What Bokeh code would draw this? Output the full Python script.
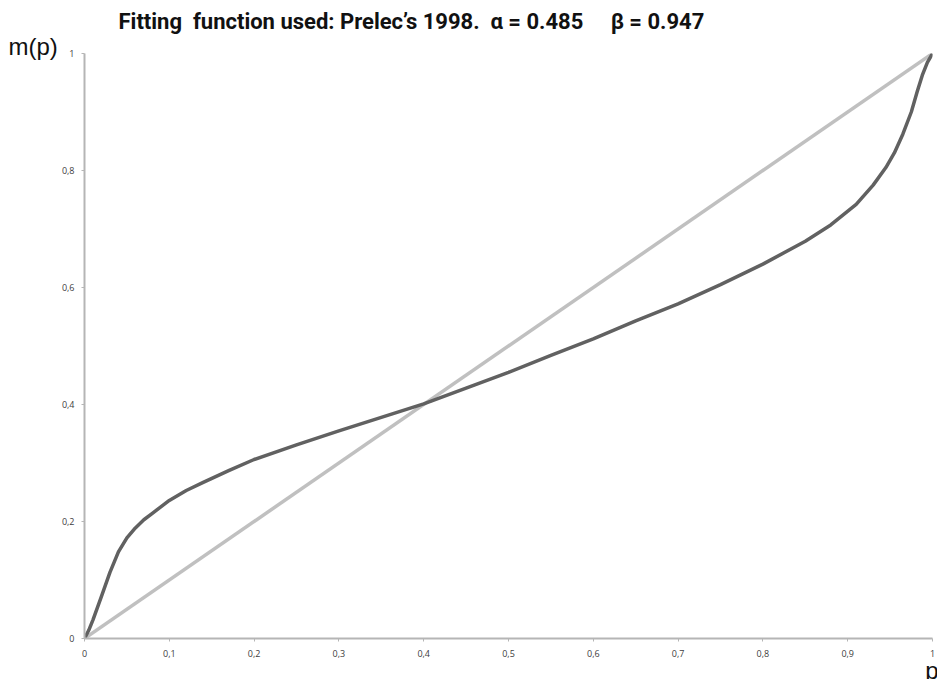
from bokeh.plotting import figure
from bokeh.models import Range1d, FixedTicker, CustomJSTickFormatter, Title
from bokeh.embed import file_html
from bokeh.resources import INLINE

# values
p_vals = [0, 0.005, 0.01, 0.02, 0.03, 0.04, 0.05, 0.06, 0.07, 0.08, 0.09, 0.10, 0.12, 0.14,
          0.17, 0.20, 0.25, 0.30, 0.35, 0.40, 0.45, 0.50, 0.55, 0.60, 0.65, 0.70,
          0.75, 0.80, 0.85, 0.88, 0.91, 0.93, 0.945, 0.955, 0.965, 0.975, 0.982, 0.988,
          0.994, 1.0]
m_vals = [0, 0.014, 0.032, 0.072, 0.113, 0.148, 0.172, 0.189, 0.203, 0.214, 0.225, 0.236, 0.253, 0.267,
          0.287, 0.306, 0.331, 0.355, 0.378, 0.401, 0.428, 0.455, 0.484, 0.512, 0.543, 0.572,
          0.605, 0.640, 0.679, 0.707, 0.742, 0.775, 0.805, 0.830, 0.862, 0.900, 0.935, 0.963,
          0.985, 1.0]
diag_x = [0, 1]
diag_y = [0, 1]
x_ticks = [0, 0.1, 0.2, 0.3, 0.4, 0.5, 0.6, 0.7, 0.8, 0.9, 1.0]
y_ticks = [0, 0.2, 0.4, 0.6, 0.8, 1.0]
title_text = "Fitting\u00a0 function used: Prelec\u2019s 1998.\u00a0 \u03b1 = 0.485\u00a0\u00a0\u00a0\u00a0 \u03b2 = 0.947"
y_name = "m(p)"
x_name = "p"

p = figure(width=937, height=679, output_backend="svg", toolbar_location=None,
           x_range=Range1d(0, 1), y_range=Range1d(0, 1),
           min_border_left=84, min_border_right=5, min_border_top=53, min_border_bottom=41)
p.outline_line_color = None
p.grid.visible = False

# y name, closest to the frame
p.add_layout(Title(text=y_name, text_font="Liberation Sans", text_font_style="normal",
                   text_font_size="24px", text_color="#111111", align="left",
                   offset=-76, standoff=-12), "above")
p.title.text = title_text
p.title.text_font = "Roboto"
p.title.text_font_style = "bold"
p.title.text_font_size = "22px"
p.title.text_color = "#111111"
p.title.align = "left"
p.title.offset = 34
p.title.standoff = 6

p.add_layout(Title(text=x_name, text_font="Liberation Sans", text_font_style="normal",
                   text_font_size="24px", text_color="#111111", align="right",
                   offset=-6, standoff=-9), "below")

p.line(diag_x, diag_y, line_color="#c0c0c0", line_width=3.5)
p.line(p_vals, m_vals, line_color="#616161", line_width=3.5, line_join="round")

fmt = CustomJSTickFormatter(code="const s = (Math.round(tick*10)/10).toString(); return s.replace('.', ',');")
for ax, ticks in ((p.xaxis, x_ticks), (p.yaxis, y_ticks)):
    ax.ticker = FixedTicker(ticks=ticks)
    ax.formatter = fmt
    ax.axis_line_color = "#b5b5b5"
    ax.axis_line_width = 2
    ax.major_tick_line_color = "#b5b5b5"
    ax.major_tick_in = 0
    ax.major_tick_out = 3
    ax.minor_tick_line_color = None
    ax.major_label_text_font = "Open Sans"
    ax.major_label_text_font_size = "9px"
    ax.major_label_text_color = "#404040"
p.xaxis.major_label_standoff = 8
p.yaxis.major_label_standoff = 7

open("out.html", "w").write(file_html(p, INLINE))
